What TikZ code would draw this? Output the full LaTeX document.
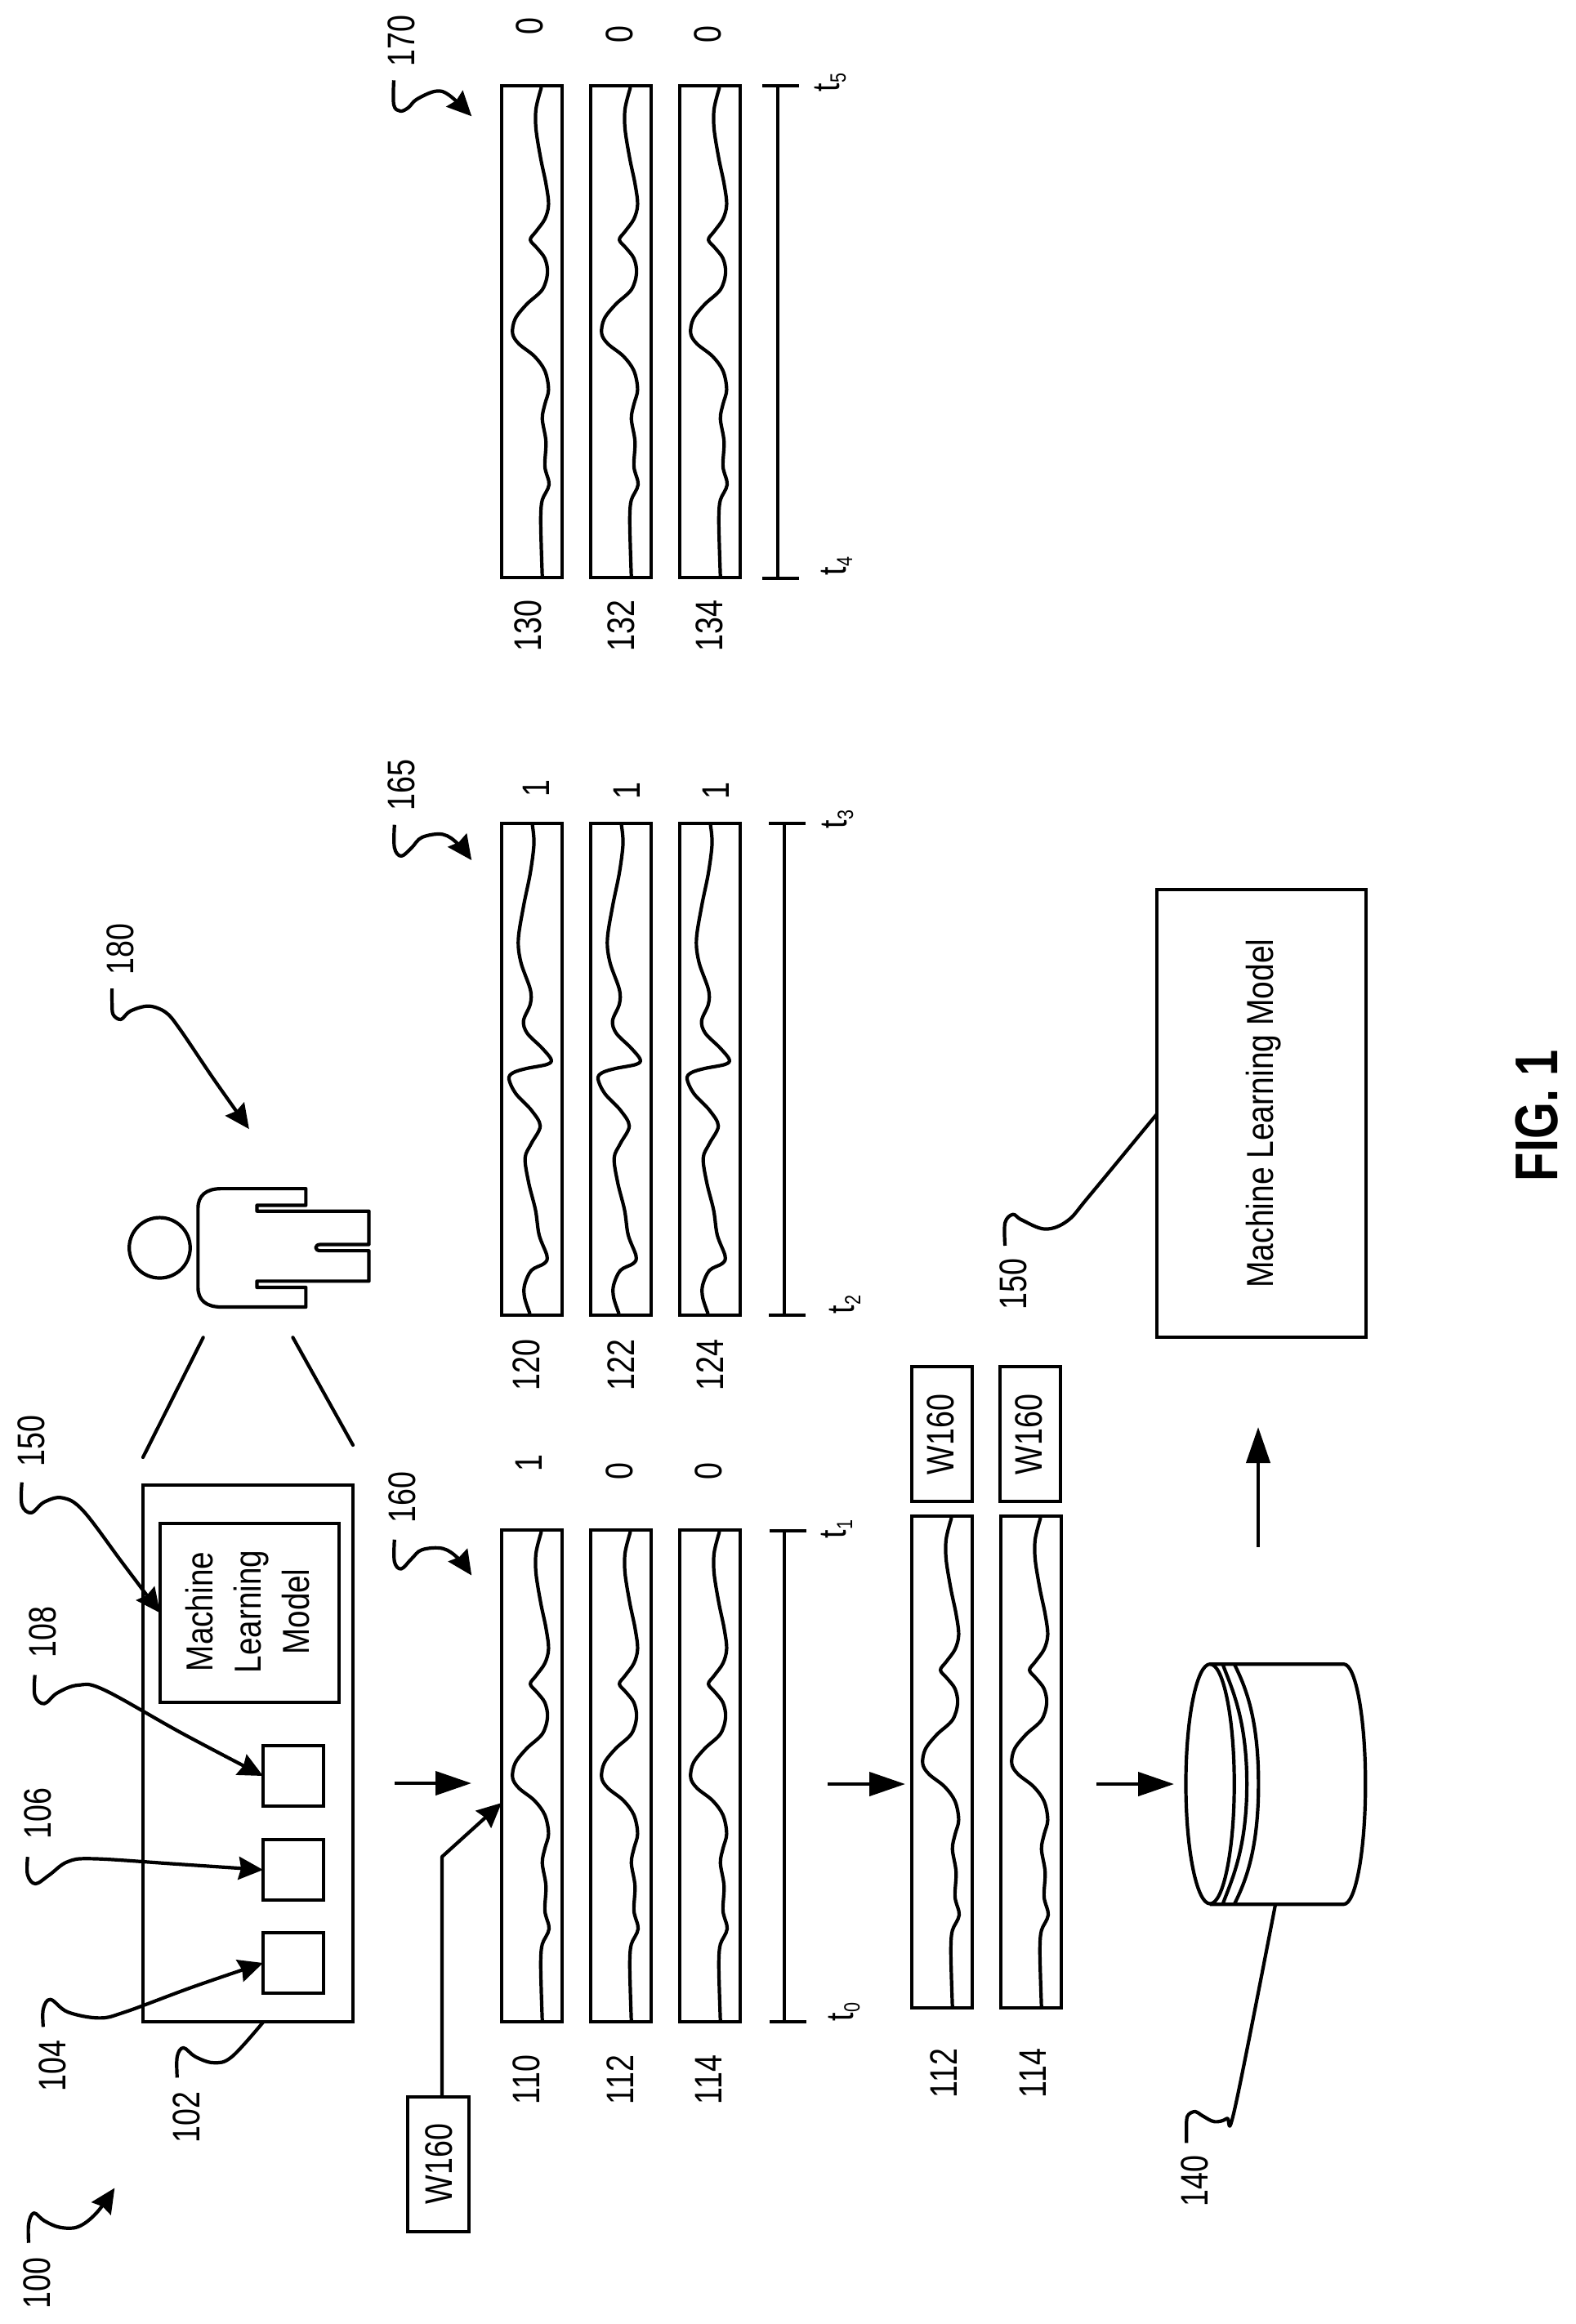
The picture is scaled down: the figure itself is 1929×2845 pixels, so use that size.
\documentclass[tikz,border=0pt]{standalone}
\usepackage{fontspec}
\setmainfont{Liberation Sans}
\usetikzlibrary{arrows.meta,calc}
\tikzset{
  x=1pt,y=-1pt,
  lab/.style={rotate=90,xscale=.8,inner sep=0pt,outer sep=0pt,text depth=0pt,font=\fontsize{47}{52}\selectfont},
  mltext/.style={rotate=90,xscale=.84,inner sep=0pt,outer sep=0pt,align=center,font=\fontsize{46}{59}\selectfont},
  figlab/.style={rotate=90,xscale=.78,inner sep=0pt,outer sep=0pt,text depth=0pt,font=\fontsize{74}{80}\selectfont\bfseries},
  stripbox/.style={draw,line width=4.5pt,inner sep=0pt,outer sep=0pt,minimum width=74pt,minimum height=602pt,anchor=north west},
  plainbox/.style={draw,line width=4.5pt,inner sep=0pt,outer sep=0pt},
  wavepath/.style={line width=4.2pt,line join=round,line cap=round},
  leader/.style={line width=4.2pt,line join=round},
  leadarrow/.style={leader,-{Stealth[length=30pt,width=28pt,inset=3pt]}},
  flow/.style={line width=4.2pt,-{Stealth[length=44pt,width=29pt,inset=0pt]}},
  outline/.style={line width=4.2pt,line join=round},
  tline/.style={line width=4.2pt},
  z1/.style={shift={(0,1700)},x=.6378pt,y=-.7302pt},
  z3/.style={shift={(0,900)},x=.6378pt,y=-.5102pt},
  z4/.style={shift={(600,900)},x=.6378pt,y=-.5102pt},
  z5/.style={shift={(1000,1650)},x=.5925pt,y=-.6378pt},
  z6/.style={shift={(420,0)},x=.3333pt,y=-.3333pt},
  z8/.style={shift={(1400,2500)},x=.3333pt,y=-.3333pt},
}
\newcommand{\waveA}{\draw[wavepath,shift={(-22,-205)}] plot[smooth,tension=.55] coordinates {(98,210)(88,260)(88,310)(97,380)(107,440)(112,490)(105,525)(88,555)(77,575)(90,595)(105,620)(110,655)(100,695)(70,730)(48,765)(43,800)(55,825)(85,855)(105,890)(112,935)(105,970)(100,1005)(107,1060)(105,1120)(113,1163)(100,1200)(97,1240)(98,1310)(100,1385)};}
\newcommand{\waveB}{\draw[wavepath,shift={(-963,-211)}] plot[smooth,tension=.55] coordinates {(1022,215)(1025,260)(1018,330)(1005,410)(995,490)(1000,545)(1018,610)(1018,645)(1005,685)(1012,715)(1040,750)(1058,778)(1050,790)(1010,800)(985,810)(977,825)(990,860)(1020,900)(1037,938)(1020,980)(1008,1015)(1015,1075)(1028,1140)(1035,1200)(1050,1250)(1045,1268)(1020,1285)(1007,1320)(1007,1350)(1017,1388)};}
\newcommand{\sigstrip}[4]{\node[stripbox] (#1) at (#2,#3) {};
  \begin{scope}[shift={(#1.north west)},x=.6378pt,y=-.5095pt]#4\end{scope}}
\newcommand{\tlab}[1]{t\raisebox{-8pt}{\fontsize{27}{27}\selectfont #1}}
\begin{document}
\begin{tikzpicture}
\useasboundingbox (0,0) rectangle (1929,2845);
\fill[white] (0,0) rectangle (1929,2845);

% strips, left group
\sigstrip{s110}{614}{1873}{\waveA}
\sigstrip{s112}{723}{1873}{\waveA}
\sigstrip{s114}{832}{1873}{\waveA}
% middle group
\sigstrip{s120}{614}{1008}{\waveB}
\sigstrip{s122}{723}{1008}{\waveB}
\sigstrip{s124}{832}{1008}{\waveB}
% right group
\sigstrip{s130}{614}{105}{\waveA}
\sigstrip{s132}{723}{105}{\waveA}
\sigstrip{s134}{832}{105}{\waveA}
% lower strips
\sigstrip{t112}{1116}{1856}{\waveA}
\sigstrip{t114}{1225}{1856}{\waveA}

% numbers under strips
\foreach \n/\x/\y in {110/644/2546,112/759/2546,114/867/2546,120/644/1671,122/760/1671,124/869/1671,130/646/766,132/760/766,134/868/766}
  \node[lab] (n\n) at (\x,\y) {\n};
\node[lab] (m112) at (1155,2538) {112};
\node[lab] (m114) at (1264,2538) {114};

% class values
\node[lab] (v110) at (647,1791) {1};
\node[lab] (v112) at (758,1801) {0};
\node[lab] (v114) at (867,1801) {0};
\node[lab] (v120) at (656,965) {1};
\node[lab] (v122) at (767,968) {1};
\node[lab] (v124) at (876,968) {1};
\node[lab] (v130) at (648,32) {0};
\node[lab] (v132) at (758,42) {0};
\node[lab] (v134) at (866,42) {0};

% time lines
\foreach \nm/\xa/\xb/\xc/\ya/\yb in {r/933/952/978/105/708,m/941/960/986/1008/1610,l/942/960/987/1874/2475}{
  \coordinate (\nm a) at (\xb,\ya);
  \coordinate (\nm b) at (\xb,\yb);
  \draw[tline] (\xa,\ya) -- (\xc,\ya);
  \draw[tline] (\xa,\yb) -- (\xc,\yb);
  \draw[tline] (\nm a) -- (\nm b);
}
\node[lab] (t5) at (1012,101) {\tlab{5}};
\node[lab] (t4) at (1020,693) {\tlab{4}};
\node[lab] (t3) at (1021,1003) {\tlab{3}};
\node[lab] (t2) at (1030,1597) {\tlab{2}};
\node[lab] (t1) at (1020,1872) {\tlab{1}};
\node[lab] (t0) at (1029,2463) {\tlab{0}};

% device 102
\node[plainbox,minimum width=257pt,minimum height=657pt,anchor=north west] (dev) at (175,1818) {};
\node[plainbox,minimum width=219pt,minimum height=219pt,anchor=north west] (mlin) at (196,1865) {};
\node[mltext] (mlintext) at (303,1973) {Machine\\Learning\\Model};
\node[plainbox,minimum width=74pt,minimum height=74pt,anchor=north west] (q108) at (322,2137) {};
\node[plainbox,minimum width=74pt,minimum height=74pt,anchor=north west] (q106) at (322,2252) {};
\node[plainbox,minimum width=74pt,minimum height=74pt,anchor=north west] (q104) at (322,2366) {};

% reference numerals
\node[lab] (l150a) at (38,1764) {150};
\node[lab] (l108) at (52,1998) {108};
\node[lab] (l106) at (46,2220) {106};
\node[lab] (l104) at (64,2529) {104};
\node[lab] (l102) at (228,2592) {102};
\node[lab] (l100) at (45,2795) {100};
\node[lab] (l160) at (492,1833) {160};
\node[lab] (l165) at (491,961) {165};
\node[lab] (l170) at (491,50) {170};
\node[lab] (l180) at (147,1162) {180};
\node[lab] (l150b) at (1240,1572) {150};
\node[lab] (l140) at (1462,2670) {140};

% W160 boxes
\node[plainbox,minimum width=75pt,minimum height=165pt,anchor=north west] (wbox) at (499,2567) {};
\node[lab] (wtext) at (537,2649) {W160};
\node[plainbox,minimum width=74pt,minimum height=165pt,anchor=north west] (wa) at (1116,1673) {};
\node[lab] (watext) at (1151,1756) {W160};
\node[plainbox,minimum width=74pt,minimum height=165pt,anchor=north west] (wb) at (1224,1673) {};
\node[lab] (wbtext) at (1259,1756) {W160};

% machine learning model box
\node[plainbox,minimum width=256pt,minimum height=548pt,anchor=north west] (mlbig) at (1416,1089) {};
\node[lab,xscale=1.06,font=\fontsize{46}{52}\selectfont] (mlbigtext) at (1542,1363) {Machine Learning Model};

% W160 to strip 110
\coordinate (wstart) at ($(wbox.north)+(4.5,0)$);
\coordinate (wbend) at (541,2273);
\coordinate (wend) at ($(s110.west)+(0,33)$);
\draw[leadarrow] (wstart) -- (wbend) -- (wend);

% flow arrows
\coordinate (f1a) at (483,2183); \coordinate (f1b) at (577,2183);
\coordinate (f2a) at (1013,2184); \coordinate (f2b) at (1108,2184);
\coordinate (f3a) at (1342,2184); \coordinate (f3b) at (1437,2184);
\coordinate (f4a) at (1540,1894); \coordinate (f4b) at (1540,1747);
\draw[flow] (f1a) -- (f1b);
\draw[flow] (f2a) -- (f2b);
\draw[flow] (f3a) -- (f3b);
\draw[flow] (f4a) -- (f4b);

% leaders in the zoom frames
\begin{scope}[z1]
\coordinate (c104) at (83,1070);
\coordinate (c106) at (53,785);
\coordinate (c108) at (67,480);
\coordinate (c150) at (42,157);
\coordinate (c100) at (55,1432);
\coordinate (e100) at (220,1340);
\coordinate (c102) at (340,1155);
\coordinate (e102) at (505,1062);
\coordinate (c160) at (757,253);
\coordinate (e160) at (905,313);
\draw[leadarrow] plot[smooth,tension=.6] coordinates {(c104)(83,1040)(97,1024)(130,1045)(190,1055)(240,1045)(370,1003)(q104.west)};
\draw[leadarrow] plot[smooth,tension=.6] coordinates {(c106)(53,815)(68,830)(95,815)(130,793)(180,788)(340,797)(q106.west)};
\draw[leadarrow] plot[smooth,tension=.6] coordinates {(c108)(67,515)(85,528)(110,510)(150,497)(200,505)(350,578)(q108.west)};
\draw[leadarrow] plot[smooth,tension=.6] coordinates {(c150)(42,195)(60,208)(85,190)(120,183)(160,205)(235,292)(mlin.west)};
\draw[leadarrow] plot[smooth,tension=.6] coordinates {(c100)(55,1400)(65,1382)(85,1395)(115,1406)(150,1405)(185,1382)(e100)};
\draw[leader] plot[smooth,tension=.6] coordinates {(c102)(340,1120)(352,1105)(375,1120)(410,1130)(445,1120)(e102)};
\draw[leadarrow] plot[smooth,tension=.6] coordinates {(c160)(757,290)(770,302)(790,285)(810,270)(850,268)(880,285)(e160)};
\end{scope}

\begin{scope}[z3]
\coordinate (c165) at (757,215);
\coordinate (e165) at (905,300);
\coordinate (c180) at (215,608);
\coordinate (e180) at (478,945);
\draw[leadarrow] plot[smooth,tension=.6] coordinates {(c165)(757,270)(770,290)(790,270)(810,245)(850,238)(880,262)(e165)};
\draw[leadarrow] plot[smooth,tension=.55] coordinates {(c180)(215,640)(217,670)(232,682)(250,662)(285,650)(318,665)(345,705)(410,825)(e180)};
% person
\draw[outline] (306.5,1230) ellipse [x radius=58.5,y radius=72.5];
\draw[outline] (587,1088) -- (425,1088) .. controls (395,1088) and (380,1105) .. (380,1135)
  -- (380,1325) .. controls (380,1355) and (395,1372) .. (425,1372) -- (587,1372) -- (587,1325)
  -- (493,1325) -- (493,1310) -- (708,1310) -- (708,1237) -- (615,1237)
  .. controls (603,1237) and (603,1222) .. (615,1222) -- (708,1222) -- (708,1142)
  -- (493,1142) -- (493,1128) -- (587,1128) -- cycle;
\coordinate (pa1) at (390,1445); \coordinate (pa2) at (562,1445);
\end{scope}
\coordinate (pb1) at (175,1784);
\coordinate (pb2) at (432,1769);
\draw[leader,line cap=round] (pa1) -- (pb1);
\draw[leader,line cap=round] (pa2) -- (pb2);

\begin{scope}[z4]
\coordinate (c150b) at (988,1225);
\coordinate (e150b) at (1280,908);
\draw[leader] plot[smooth,tension=.6] coordinates {(c150b)(988,1170)(1003,1150)(1020,1163)(1065,1185)(1108,1165)(1150,1105)(e150b)};
\end{scope}

\begin{scope}[z6]
\coordinate (c170) at (186,295);
\coordinate (e170) at (472,427);
\draw[leadarrow] plot[smooth,tension=.6] coordinates {(c170)(186,385)(210,408)(240,395)(270,365)(340,335)(390,350)(e170)};
\end{scope}

% database 140
\begin{scope}[z5]
\draw[outline] (812,837) ellipse [x radius=50,y radius=230];
\draw[outline] (812,607) -- (1088,607) .. controls (1113,607) and (1133,710) .. (1133,837)
  .. controls (1133,964) and (1113,1068) .. (1088,1068) -- (812,1068);
\draw[outline] (838,607) .. controls (855,650) and (888,710) .. (888,837) .. controls (888,964) and (855,1025) .. (838,1068);
\draw[outline] (862,607) .. controls (885,650) and (912,710) .. (912,837) .. controls (912,964) and (885,1025) .. (862,1068);
\coordinate (cyl) at (947,1068);
\end{scope}
\begin{scope}[z8]
\coordinate (c140) at (157,370);
\draw[leader] plot[smooth,tension=.6] coordinates {(c140)(157,290)(165,265)(190,255)(215,270)(260,292)(305,280)(335,240)(cyl)};
\end{scope}

\node[figlab] (fig) at (1881,1366) {FIG. 1};
\end{tikzpicture}
\end{document}
